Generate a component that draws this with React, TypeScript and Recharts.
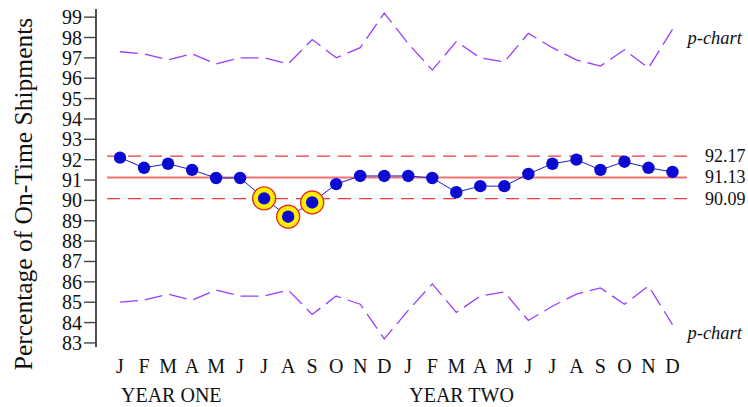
import { LabelList, Line, LineChart, ReferenceLine, XAxis, YAxis } from 'recharts';

const months = ['J', 'F', 'M', 'A', 'M', 'J', 'J', 'A', 'S', 'O', 'N', 'D'];
const yearLabels = ['YEAR ONE', 'YEAR TWO'];

const onTime = [
  92.1, 91.6, 91.8, 91.5, 91.1, 91.1, 90.1, 89.2, 89.9, 90.8, 91.2, 91.2,
  91.2, 91.1, 90.4, 90.7, 90.7, 91.3, 91.8, 92.0, 91.5, 91.9, 91.6, 91.4,
];
const upperP = [
  97.3, 97.2, 96.9, 97.2, 96.7, 97.0, 97.0, 96.7, 97.9, 97.0, 97.5, 99.2,
  97.7, 96.4, 97.8, 97.0, 96.8, 98.2, 97.5, 96.9, 96.6, 97.4, 96.5, 98.4,
];
const lowerP = [
  85.0, 85.1, 85.4, 85.1, 85.6, 85.3, 85.3, 85.6, 84.4, 85.3, 84.9, 83.2,
  84.6, 85.9, 84.5, 85.3, 85.5, 84.1, 84.8, 85.4, 85.7, 84.9, 85.8, 83.9,
];
const flagged = [6, 7, 8];
const limits = { ucl: 92.17, center: 91.13, lcl: 90.09 };
const yTicks = [83, 84, 85, 86, 87, 88, 89, 90, 91, 92, 93, 94, 95, 96, 97, 98, 99];

const data = onTime.map((value, i) => ({
  idx: i,
  month: months[i % 12],
  value,
  upper: upperP[i],
  lower: lowerP[i],
}));

const FONT = "'Liberation Serif', 'DejaVu Serif', serif";
const LIMIT_X0 = -0.54;
const LIMIT_X1 = 23.6;
const RED = '#e8393d';
const PURPLE = '#9a3cff';
const BLUE = '#0a0ad2';

function ProcessDot(props: any) {
  const { cx, cy, index } = props;
  if (cx == null || cy == null) return null;
  return (
    <g key={`dot-${index}`}>
      {flagged.includes(index) && (
        <circle cx={cx} cy={cy} r={11.5} fill="#ffee00" stroke="#e0302a" strokeWidth={1.4} />
      )}
      <circle cx={cx} cy={cy} r={6.2} fill={BLUE} />
    </g>
  );
}

function MonthTick(props: any) {
  const { x, y, payload } = props;
  const i = Number(payload.value);
  return (
    <g>
      <text x={x} y={y + 26} textAnchor="middle" fontSize={20} fill="#111" style={{ fontFamily: FONT }}>
        {months[i % 12]}
      </text>
      {i % 12 === 0 && (
        <text x={x + 1} y={y + 55} textAnchor="start" fontSize={20} fill="#111" style={{ fontFamily: FONT }}>
          {yearLabels[i / 12]}
        </text>
      )}
    </g>
  );
}

function YTick(props: any) {
  const { x, y, payload } = props;
  return (
    <text x={x} y={y} dy="0.35em" textAnchor="end" fontSize={20} fill="#111" style={{ fontFamily: FONT }}>
      {payload.value}
    </text>
  );
}

function pChartLabel(dy: number) {
  return (props: any) => {
    const { x, y, index } = props;
    if (index !== data.length - 1) return null;
    return (
      <text
        x={x + 15}
        y={y + dy}
        fontSize={18.5}
        fontStyle="italic"
        fill="#111"
        dominantBaseline="central"
        style={{ fontFamily: FONT }}
      >
        p-chart
      </text>
    );
  };
}

function limitLabel(text: string) {
  return (props: any) => {
    const vb = props.viewBox || { x: 0, y: 0, width: 0, height: 0 };
    return (
      <text
        x={vb.x + vb.width + 18}
        y={vb.y + (vb.height || 0) / 2}
        dominantBaseline="central"
        fontSize={18}
        fill="#111"
        style={{ fontFamily: FONT }}
      >
        {text}
      </text>
    );
  };
}

function YLabel(props: any) {
  const vb = props.viewBox || { x: 0, y: 9, height: 338 };
  const x = vb.x + 32;
  const y = vb.y + vb.height / 2 + 16;
  return (
    <text
      x={x}
      y={y}
      textAnchor="middle"
      fontSize={25.5}
      fill="#111"
      transform={`rotate(-90 ${x} ${y})`}
      style={{ fontFamily: FONT }}
    >
      Percentage of On-Time Shipments
    </text>
  );
}

export default function App() {
  return (
    <div
      style={{
        position: 'absolute',
        left: 0,
        top: 0,
        width: 748,
        height: 407,
        background: '#fff',
        fontFamily: FONT,
      }}
    >
      <LineChart
        width={748}
        height={407}
        data={data}
        margin={{ top: 9, right: 51.5, bottom: 0, left: 0 }}
        style={{ overflow: 'visible', fontFamily: FONT }}
      >
        <XAxis
          dataKey="idx"
          type="number"
          domain={[-1, 24]}
          ticks={data.map((d) => d.idx)}
          interval={0}
          axisLine={false}
          tickLine={false}
          tickSize={0}
          tickMargin={0}
          height={60}
          tick={<MonthTick />}
        />
        <YAxis
          domain={[82.8, 99.4]}
          ticks={yTicks}
          interval={0}
          width={96}
          tickSize={12}
          tick={<YTick />}
          axisLine={{ stroke: '#222', strokeWidth: 1.6 }}
          tickLine={{ stroke: '#444', strokeWidth: 1.4 }}
          label={{ content: <YLabel /> }}
        />
        <ReferenceLine
          segment={[{ x: LIMIT_X0, y: limits.ucl }, { x: LIMIT_X1, y: limits.ucl }]}
          stroke={RED}
          strokeWidth={1.3}
          strokeDasharray="13 8"
          label={{ content: limitLabel(limits.ucl.toFixed(2)) }}
        />
        <ReferenceLine
          segment={[{ x: LIMIT_X0, y: limits.center }, { x: LIMIT_X1, y: limits.center }]}
          stroke="#f07272"
          strokeWidth={2}
          label={{ content: limitLabel(limits.center.toFixed(2)) }}
        />
        <ReferenceLine
          segment={[{ x: LIMIT_X0, y: limits.lcl }, { x: LIMIT_X1, y: limits.lcl }]}
          stroke={RED}
          strokeWidth={1.3}
          strokeDasharray="13 8"
          label={{ content: limitLabel(limits.lcl.toFixed(2)) }}
        />
        <Line
          dataKey="upper"
          type="linear"
          stroke={PURPLE}
          strokeWidth={1.3}
          strokeDasharray="18 7"
          dot={false}
          activeDot={false}
          isAnimationActive={false}
        >
          <LabelList dataKey="upper" content={pChartLabel(9)} />
        </Line>
        <Line
          dataKey="lower"
          type="linear"
          stroke={PURPLE}
          strokeWidth={1.3}
          strokeDasharray="18 7"
          dot={false}
          activeDot={false}
          isAnimationActive={false}
        >
          <LabelList dataKey="lower" content={pChartLabel(8)} />
        </Line>
        <Line
          dataKey="value"
          type="linear"
          stroke="#1c1cc8"
          strokeWidth={1}
          dot={(p: any) => <ProcessDot key={`d${p.index}`} {...p} />}
          activeDot={false}
          isAnimationActive={false}
        />
      </LineChart>
    </div>
  );
}
